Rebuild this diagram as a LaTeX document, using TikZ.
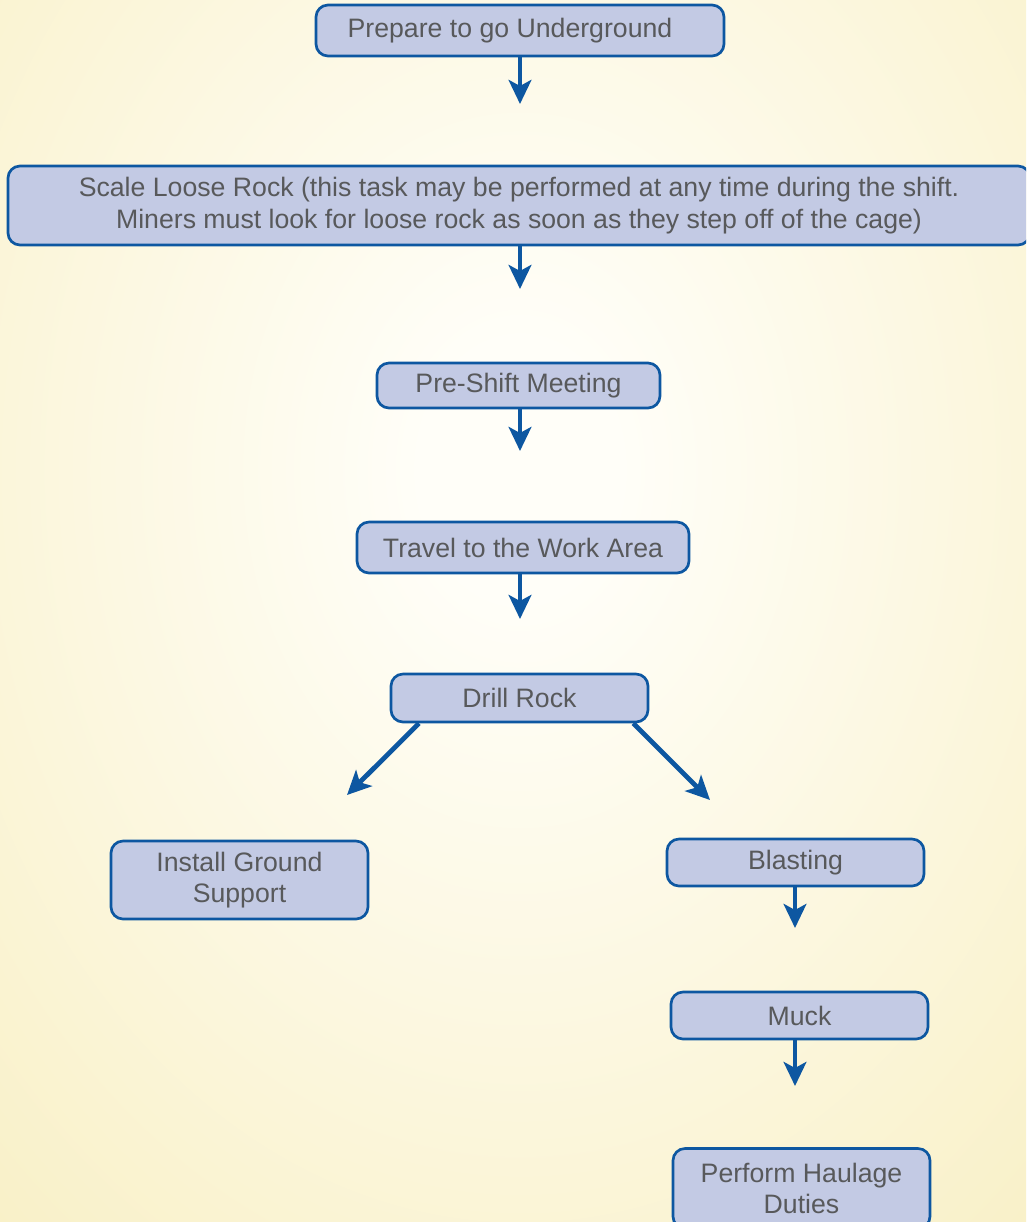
\documentclass[tikz,border=0pt]{standalone}
\usepackage{fontspec}
\setmainfont{Liberation Sans}
\usetikzlibrary{arrows.meta}
\definecolor{boxfill}{HTML}{C3CAE4}
\definecolor{boxline}{HTML}{0D57A1}
\definecolor{txtgray}{HTML}{58595B}
\definecolor{bgin}{HTML}{FFFEF8}
\definecolor{bgout}{HTML}{F6EBB4}
\pgfdeclareradialshading{bgglow}{\pgfpoint{0bp}{0bp}}{color(0bp)=(bgin); color(4bp)=(bgin); color(43bp)=(bgout); color(75bp)=(bgout)}
\begin{document}
\begin{tikzpicture}[
        % --- 區域樣式設定 ---
        x=0.75pt, y=-0.75pt,
        every node/.style={text=txtgray, font=\fontsize{20}{23.5}\selectfont, align=center, inner sep=0pt},
        stepbox/.style={draw=boxline, fill=boxfill, line width=2pt, rounded corners=9pt},
        boxsize/.style 2 args={minimum width=#1, minimum height=#2},
        flow/.style={draw=boxline, line width=3.6pt, -{Stealth[length=18pt, width=17pt, inset=4.5pt]}},
        % --------------------
    ]

    % 背景
    \useasboundingbox (0,0) rectangle (1026,1222);
    \clip (0,0) rectangle (1026,1222);
    \shade[shading=bgglow] (-100,-330) rectangle (1140,1270);

    % 主流程
    \node[stepbox, boxsize={306pt}{38.25pt}] (prep) at (520,30.5) {Prepare to go Underground\hspace*{15pt}};
    \node[stepbox, boxsize={766.5pt}{59.25pt}] (scale) at (519,205.5)
        {Scale Loose Rock (this task may be performed at any time during the shift.\\
         Miners must look for loose rock as soon as they step off of the cage)};
    \node[stepbox, boxsize={212.25pt}{33.75pt}] (meet) at (518.5,385.5) {Pre-Shift Meeting};
    \node[stepbox, boxsize={249pt}{38.25pt}] (travel) at (523,547.5) {Travel to the Work Area};
    \node[stepbox, boxsize={192.75pt}{36pt}] (drill) at (519.5,698) {Drill Rock};

    % 左分支
    \node[stepbox, boxsize={192.75pt}{58.5pt}] (ground) at (239.5,880) {Install Ground\\Support};

    % 右分支
    \node[stepbox, boxsize={192.75pt}{35.25pt}] (blast) at (795.5,862.5) {Blasting};
    \node[stepbox, boxsize={192.75pt}{35.25pt}] (muck) at (799.5,1015.5) {Muck};
    \node[stepbox, boxsize={192.75pt}{60pt}] (haul) at (801.5,1188.5) {Perform Haulage\\Duties};

    % 箭頭終點
    \coordinate (a1) at (520,104);
    \coordinate (a2) at (520,289);
    \coordinate (a3) at (520,451);
    \coordinate (a4) at (520,619);
    \coordinate (dl) at (347,795);
    \coordinate (dr) at (710,800);
    \coordinate (a6) at (795,928);
    \coordinate (a7) at (795,1086);

    \draw[flow] (prep.south) -- (a1);
    \draw[flow] (a1 |- scale.south) -- (a2);
    \draw[flow] (a1 |- meet.south) -- (a3);
    \draw[flow] (a1 |- travel.south) -- (a4);
    \draw[flow] ([xshift=22pt]drill.south west) -- (dl);
    \draw[flow] ([xshift=-12pt]drill.south east) -- (dr);
    \draw[flow] (a6 |- blast.south) -- (a6);
    \draw[flow] (a6 |- muck.south) -- (a7);
\end{tikzpicture}
\end{document}
